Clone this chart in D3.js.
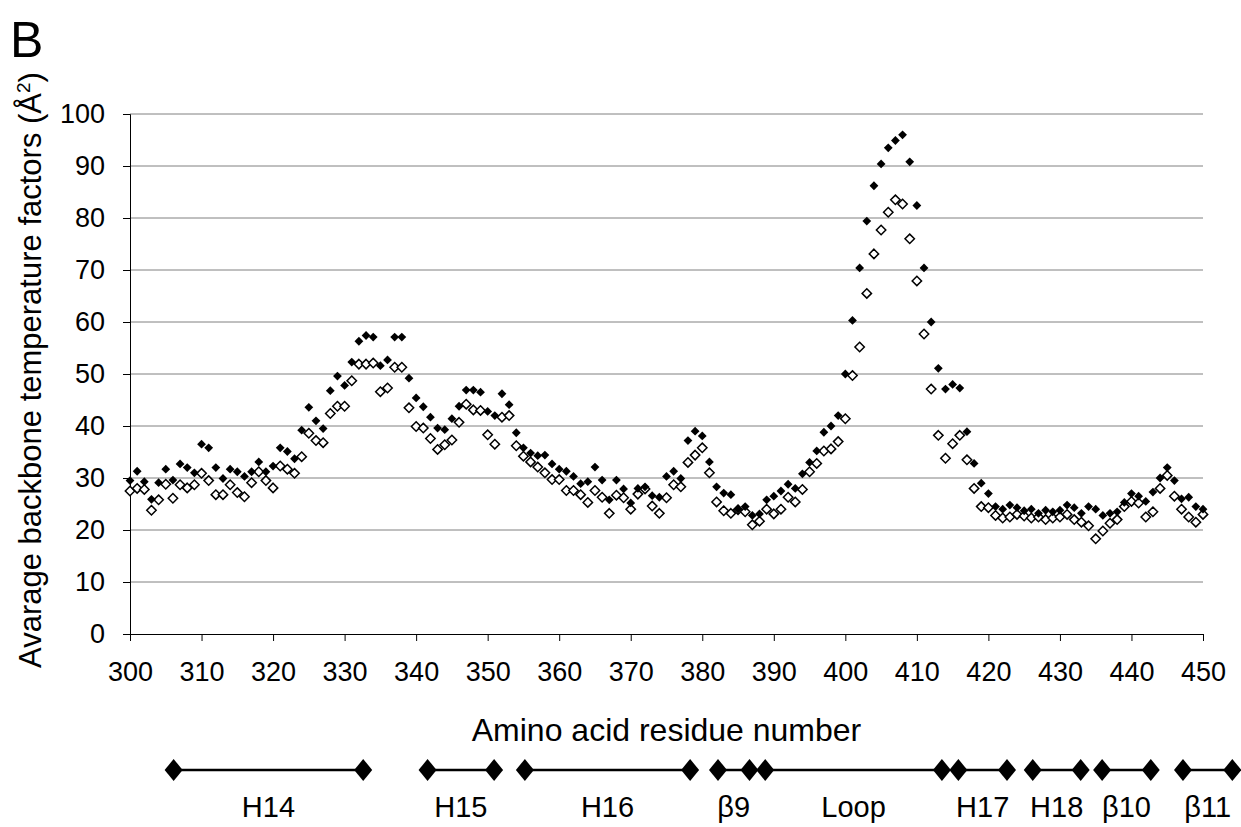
<!DOCTYPE html>
<html>
<head>
<meta charset="utf-8">
<script src="https://cdn.jsdelivr.net/npm/d3@7"></script>
<style>
  body { margin: 0; background: #fff; }
  svg { display: block; font-family: "Liberation Sans", Arial, sans-serif; }
</style>
</head>
<body>
<svg id="chart" width="1241" height="827"></svg>
<script>
// residue numbers 300..450
const residues = d3.range(300, 451);

// filled diamonds
const filledSeries = [
  29.5, 31.3, 29.3, 25.9, 29.1, 31.7, 29.6, 32.7, 32.0, 31.0,
  36.5, 35.8, 32.0, 29.9, 31.7, 31.2, 30.3, 31.2, 33.1, 31.2,
  32.3, 35.8, 35.1, 33.7, 39.2, 43.6, 41.0, 39.5, 46.8, 49.6,
  47.8, 52.3, 56.3, 57.4, 57.1, 51.6, 52.7, 57.1, 57.1, 49.2,
  45.4, 43.7, 41.7, 39.6, 39.3, 41.4, 43.8, 46.9, 46.9, 46.5,
  42.8, 42.0, 46.2, 44.1, 38.7, 35.8, 34.8, 34.3, 34.4, 32.7,
  31.7, 31.3, 30.3, 28.9, 29.3, 32.1, 29.6, 25.8, 29.6, 27.9,
  25.2, 28.0, 28.3, 26.6, 26.3, 30.3, 31.3, 29.9, 37.2, 39.0,
  38.1, 33.1, 28.3, 27.1, 26.8, 24.0, 24.5, 22.8, 23.1, 25.8,
  26.5, 27.5, 28.8, 28.0, 30.8, 33.0, 35.2, 38.8, 40.0, 42.0,
  50.0, 60.3, 70.4, 79.4, 86.2, 90.4, 93.5, 94.9, 96.0, 90.8,
  82.4, 70.4, 60.0, 51.1, 47.1, 48.0, 47.3, 38.9, 32.8, 29.0,
  27.0, 24.5, 24.0, 24.8, 24.3, 23.7, 24.0, 23.2, 23.8, 23.5,
  23.8, 24.8, 24.3, 23.2, 24.5, 24.0, 22.8, 23.2, 23.5, 25.3,
  27.0, 26.5, 25.5, 27.3, 30.0, 32.0, 29.5, 26.0, 26.3, 24.5,
  24.0
];

// open diamonds
const openSeries = [
  27.5, 28.0, 27.8, 23.8, 25.8, 28.8, 26.1, 28.7, 28.1, 28.7,
  30.9, 29.5, 26.8, 26.8, 28.7, 27.2, 26.4, 29.1, 31.2, 29.5,
  28.1, 32.3, 31.7, 30.9, 34.1, 38.6, 37.2, 36.8, 42.4, 43.8,
  43.8, 48.7, 51.9, 51.9, 52.1, 46.6, 47.3, 51.3, 51.3, 43.5,
  39.9, 39.6, 37.6, 35.5, 36.4, 37.3, 40.7, 44.2, 43.1, 43.0,
  38.3, 36.5, 41.7, 42.0, 36.2, 34.2, 33.1, 32.1, 31.0, 29.7,
  29.7, 27.6, 27.6, 26.8, 25.3, 27.6, 26.3, 23.2, 26.7, 26.2,
  24.0, 26.9, 27.9, 24.6, 23.2, 26.2, 28.7, 28.3, 33.0, 34.4,
  35.8, 31.0, 25.4, 23.7, 23.2, 23.9, 23.5, 21.0, 21.7, 24.0,
  23.1, 24.0, 26.3, 25.4, 27.8, 31.2, 32.8, 35.2, 35.6, 37.0,
  41.4, 49.7, 55.2, 65.5, 73.1, 77.7, 81.1, 83.5, 82.7, 76.0,
  67.9, 57.7, 47.1, 38.2, 33.8, 36.6, 38.2, 33.5, 28.0, 24.5,
  24.3, 22.8, 22.3, 22.5, 23.0, 22.7, 22.3, 22.5, 22.0, 22.3,
  22.5, 23.0, 22.0, 21.5, 20.8, 18.3, 19.8, 21.3, 22.0, 24.5,
  25.5, 25.2, 22.5, 23.5, 28.0, 30.5, 26.5, 24.0, 22.5, 21.5,
  23.0
];

const xTicks = d3.range(300, 451, 10);
const yTicks = d3.range(0, 101, 10);

// secondary structure elements (residue ranges)
const ssLabels = ['H14', 'H15', 'H16', 'β9', 'Loop', 'H17', 'H18', 'β10', 'β11'];
const ssStart  = [306.1, 341.6, 355.2, 382.2, 388.8, 415.8, 426.2, 435.9, 447.2];
const ssEnd    = [332.6, 350.9, 378.3, 386.6, 413.5, 422.6, 432.9, 442.7, 454.1];

const svg = d3.select('#chart');

const plotLeft = 130, plotRight = 1203, plotTop = 114, plotBottom = 634;

const x = d3.scaleLinear().domain([300, 450]).range([plotLeft, plotRight]);
const y = d3.scaleLinear().domain([0, 100]).range([plotBottom, plotTop]);

// gridlines
svg.append('g')
  .selectAll('line')
  .data(yTicks.filter(d => d > 0))
  .enter()
  .append('line')
  .attr('x1', plotLeft).attr('x2', plotRight)
  .attr('y1', d => y(d)).attr('y2', d => y(d))
  .attr('stroke', '#808080')
  .attr('stroke-width', 1);

// y axis
const yAxis = svg.append('g')
  .attr('transform', `translate(${plotLeft},0)`)
  .call(d3.axisLeft(y).tickValues(yTicks).tickSize(7).tickPadding(18));
yAxis.select('.domain').attr('stroke', '#000');
yAxis.selectAll('.tick line').attr('stroke', '#000');
yAxis.selectAll('text')
  .attr('font-size', 27)
  .attr('font-family', '"Liberation Sans", Arial, sans-serif')
  .attr('fill', '#000');

// x axis
const xAxis = svg.append('g')
  .attr('transform', `translate(0,${plotBottom})`)
  .call(d3.axisBottom(x).tickValues(xTicks).tickSize(7).tickPadding(21).tickSizeOuter(0));
xAxis.select('.domain').attr('stroke', '#000');
xAxis.selectAll('.tick line').attr('stroke', '#000');
xAxis.selectAll('text')
  .attr('font-size', 27)
  .attr('font-family', '"Liberation Sans", Arial, sans-serif')
  .attr('fill', '#000');

const diamond = (cx, cy, r) =>
  `M${cx},${cy - r}L${cx + r},${cy}L${cx},${cy + r}L${cx - r},${cy}Z`;

// open series first, filled on top
svg.append('g')
  .selectAll('path')
  .data(residues)
  .enter()
  .append('path')
  .attr('d', (d, i) => diamond(x(d), y(openSeries[i]), 4.7))
  .attr('fill', '#fff')
  .attr('stroke', '#000')
  .attr('stroke-width', 1.5);

svg.append('g')
  .selectAll('path')
  .data(residues)
  .enter()
  .append('path')
  .attr('d', (d, i) => diamond(x(d), y(filledSeries[i]), 4.4))
  .attr('fill', '#000');

// titles
svg.append('text')
  .attr('x', 10).attr('y', 57)
  .attr('font-size', 50)
  .text('B');

svg.append('text')
  .attr('transform', `translate(41,${(plotTop + plotBottom) / 2 - 4}) rotate(-90)`)
  .attr('text-anchor', 'middle')
  .attr('font-size', 31)
  .html('Avarage backbone temperature factors (Å<tspan dy="-11" font-size="19">2</tspan><tspan dy="11">)</tspan>');

svg.append('text')
  .attr('x', (plotLeft + plotRight) / 2).attr('y', 741)
  .attr('text-anchor', 'middle')
  .attr('font-size', 32)
  .text('Amino acid residue number');

// secondary structure bar
const ssY = 770;
const ss = svg.append('g');
ssLabels.forEach((label, i) => {
  ss.append('line')
    .attr('x1', x(ssStart[i])).attr('x2', x(ssEnd[i]))
    .attr('y1', ssY).attr('y2', ssY)
    .attr('stroke', '#000')
    .attr('stroke-width', 2.5);
  [ssStart[i], ssEnd[i]].forEach(r => {
    const cx = x(r);
    ss.append('path')
      .attr('d', `M${cx},${ssY - 11}L${cx + 9},${ssY}L${cx},${ssY + 11}L${cx - 9},${ssY}Z`)
      .attr('fill', '#000');
  });
  ss.append('text')
    .attr('x', x((ssStart[i] + ssEnd[i]) / 2))
    .attr('y', 817)
    .attr('text-anchor', 'middle')
    .attr('font-size', 29)
    .text(label);
});
</script>
</body>
</html>
